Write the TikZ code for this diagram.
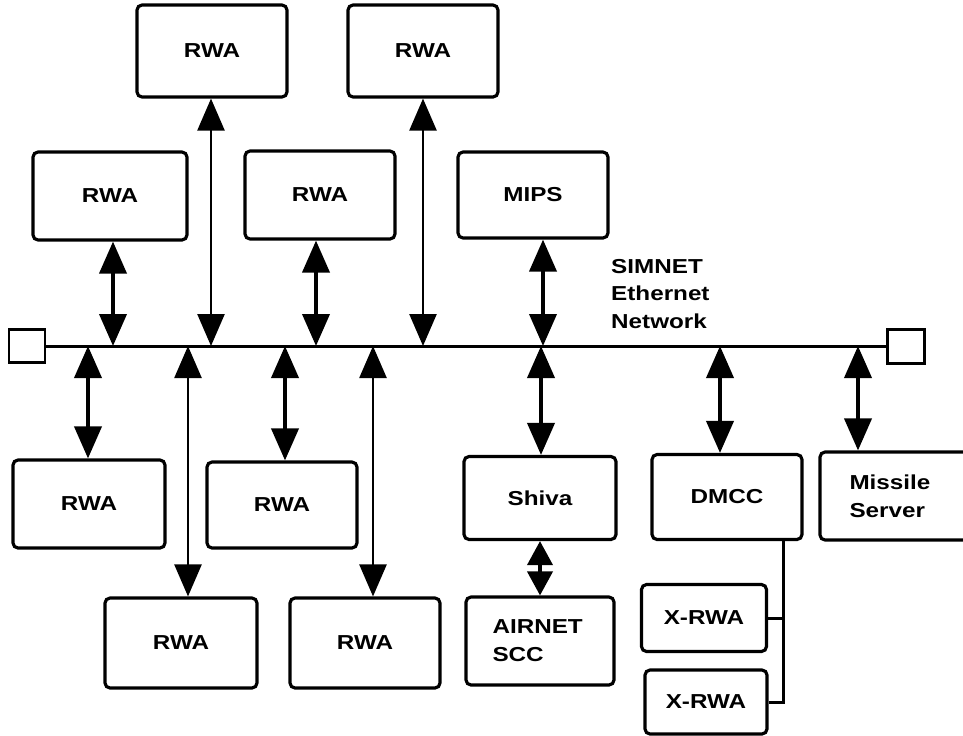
\documentclass[tikz,border=0pt]{standalone}
\usepackage{fontspec}
\setmainfont{Liberation Sans}[FakeStretch=1.2]
\usetikzlibrary{arrows.meta}

\begin{document}
\begin{tikzpicture}[x=0.02cm, y=-0.02cm,
    box/.style={draw, line width=1.8pt, rounded corners=0.1cm, fill=white,
        minimum width=3cm, minimum height=1.76cm, inner sep=0pt,
        font=\fontsize{11.5}{16}\selectfont\bfseries},
    note/.style={box, align=left, text width=1.9cm},
    term/.style={draw, line width=1.7pt, minimum width=0.72cm, minimum height=0.66cm, inner sep=0pt},
    link/.style={line width=2.2pt, {Triangle[length=0.64cm, width=0.54cm]}-{Triangle[length=0.64cm, width=0.54cm]}},
    longlink/.style={link, line width=1.4pt},
    shortlink/.style={line width=2.2pt, {Triangle[length=0.48cm, width=0.5cm]}-{Triangle[length=0.48cm, width=0.5cm]}},
    wire/.style={line width=1.7pt}]
    \useasboundingbox (0,0) rectangle (963,735);

    % stations above the bus
    \node[box, minimum height=1.84cm] (rwaTopA) at (212,51) {RWA};
    \node[box, minimum height=1.84cm] (rwaTopB) at (423,51) {RWA};
    \node[box, minimum width=3.08cm] (rwaMidA) at (110,196) {RWA};
    \node[box] (rwaMidB) at (320,195) {RWA};
    \node[box, minimum height=1.72cm] (mips) at (533,195) {MIPS};

    % stations below the bus
    \node[box, minimum width=3.04cm] (rwaLowA) at (89,504) {RWA};
    \node[box, minimum height=1.72cm] (rwaLowB) at (282,505) {RWA};
    \node[box, minimum width=3.04cm, minimum height=1.8cm] (rwaBotA) at (181,643) {RWA};
    \node[box, minimum height=1.8cm] (rwaBotB) at (365,643) {RWA};
    \node[box, minimum width=3.04cm, minimum height=1.66cm] (shiva) at (540,498) {Shiva};
    \node[note, minimum width=2.96cm] (airnet) at (540,641) {AIRNET\\SCC};
    \node[box, minimum height=1.7cm] (dmcc) at (727,497) {DMCC};
    \node[note, minimum width=3.08cm] (missile) at (897,496) {Missile\\Server};
    \node[box, minimum width=2.5cm, minimum height=1.34cm] (xrwaA) at (704,618) {X-RWA};
    \node[box, minimum width=2.44cm, minimum height=1.28cm] (xrwaB) at (706,702) {X-RWA};

    % the bus and its terminators
    \node[term] (termW) at (27,346) {};
    \node[term, minimum width=0.74cm, minimum height=0.68cm] (termE) at (906,346) {};
    \draw[wire] (termW) -- (termE);
    \node[font=\fontsize{11.5}{15.5}\selectfont\bfseries, align=left, anchor=west] (simnet) at (605,294)
        {SIMNET\\Ethernet\\Network};

    \foreach \x/\n/\s in {113/rwaMidA/link, 211/rwaTopA/longlink, 316/rwaMidB/link,
        423/rwaTopB/longlink, 543/mips/link}
        \draw[\s] (\x,346) -- (\x,346 |- \n.south);
    \foreach \x/\n/\s in {88/rwaLowA/link, 188/rwaBotA/longlink, 285/rwaLowB/link,
        373/rwaBotB/longlink, 541/shiva/link, 720/dmcc/link, 858/missile/link}
        \draw[\s] (\x,346) -- (\x,346 |- \n.north);

    \draw[shortlink] (shiva) -- (airnet);

    \coordinate (trunk) at (783,540);
    \draw[wire] (xrwaA.east) -| (dmcc.south -| trunk);
    \draw[wire] (xrwaB.east) -| (dmcc.south -| trunk);
\end{tikzpicture}
\end{document}
